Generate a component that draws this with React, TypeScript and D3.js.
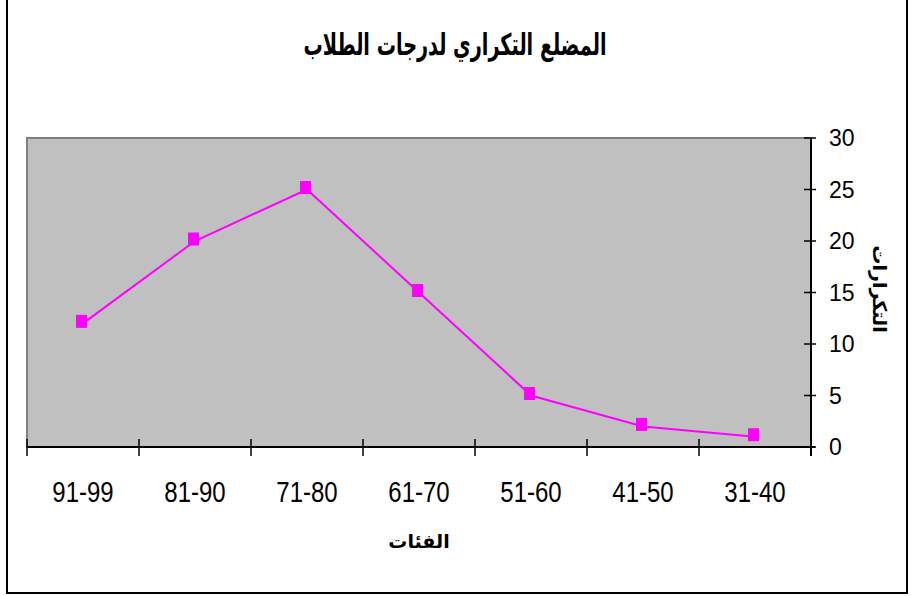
import React from "react";
import * as d3 from "d3";

// Class intervals (left to right) and their frequencies
const categories: string[] = ["91-99", "81-90", "71-80", "61-70", "51-60", "41-50", "31-40"];
const frequencies: number[] = [12, 20, 25, 15, 5, 2, 1];
const yTicks: number[] = [0, 5, 10, 15, 20, 25, 30];

const chartTitle = "المضلع التكراري لدرجات الطلاب";
const xTitle = "الفئات";
const yTitle = "التكرارات";

const W = 913;
const H = 596;
const plot = { left: 27, right: 811, top: 138, bottom: 447 };

export default function App() {
  const x = d3
    .scaleBand<string>()
    .domain(categories)
    .range([plot.left, plot.right])
    .padding(0);
  const y = d3.scaleLinear().domain([0, 30]).range([plot.bottom, plot.top]);

  const cx = (c: string) => (x(c) ?? 0) + x.bandwidth() / 2;
  const points: [number, number][] = categories.map((c, i) => [cx(c), y(frequencies[i])]);
  const line = d3.line<[number, number]>().x((d) => d[0]).y((d) => d[1]);

  const boundaries = [...categories.map((c) => x(c) ?? 0), plot.right];
  const arabicFont = "'DejaVu Sans', sans-serif";
  const latinFont = "'Liberation Sans', Arial, sans-serif";

  return (
    <svg
      width={W}
      height={H}
      style={{ position: "absolute", left: 0, top: 0, background: "#fff" }}
    >
      {/* outer chart frame */}
      <rect x={7} y={-2} width={900} height={595} fill="#fff" stroke="#000" strokeWidth={2} />

      {/* title */}
      <text
        x={455}
        y={55}
        textAnchor="middle"
        fontFamily={arabicFont}
        fontWeight="bold"
        fontSize={30}
        textLength={303}
        lengthAdjust="spacingAndGlyphs"
        direction="rtl"
        fill="#000"
      >
        {chartTitle}
      </text>

      {/* plot area */}
      <rect
        x={plot.left}
        y={plot.top}
        width={plot.right - plot.left}
        height={plot.bottom - plot.top}
        fill="#C0C0C0"
        stroke="#808080"
        strokeWidth={2}
      />

      {/* x axis */}
      <line x1={plot.left} x2={plot.right + 4} y1={plot.bottom} y2={plot.bottom} stroke="#000" strokeWidth={2} />
      {boundaries.map((bx, i) => (
        <line key={`xt${i}`} x1={bx} x2={bx} y1={plot.bottom - 8} y2={plot.bottom + 9} stroke="#000" strokeWidth={1.5} />
      ))}
      {categories.map((c) => (
        <g key={c} transform={`translate(${cx(c)},502) scale(0.8,1)`}>
          <text textAnchor="middle" fontFamily={latinFont} fontSize={30} fill="#000">
            {c}
          </text>
        </g>
      ))}
      <text
        x={(plot.left + plot.right) / 2}
        y={548}
        textAnchor="middle"
        fontFamily={arabicFont}
        fontWeight="bold"
        fontSize={19}
        direction="rtl"
        fill="#000"
      >
        {xTitle}
      </text>

      {/* y axis (right side) */}
      <line x1={plot.right} x2={plot.right} y1={plot.top} y2={plot.bottom + 9} stroke="#000" strokeWidth={2} />
      {yTicks.map((t) => (
        <g key={`yt${t}`}>
          <line x1={plot.right - 7} x2={plot.right + 5} y1={y(t)} y2={y(t)} stroke="#000" strokeWidth={1.5} />
          <text
            x={829}
            y={y(t)}
            dy="0.36em"
            fontFamily={latinFont}
            fontSize={23}
            fill="#000"
          >
            {t}
          </text>
        </g>
      ))}
      <text
        transform={`translate(873,289) rotate(90)`}
        textAnchor="middle"
        fontFamily={arabicFont}
        fontWeight="bold"
        fontSize={19}
        direction="rtl"
        fill="#000"
      >
        {yTitle}
      </text>

      {/* frequency polygon */}
      <path d={line(points) ?? ""} fill="none" stroke="#FF00FF" strokeWidth={2} />
      {points.map(([px, py], i) => (
        <rect
          key={`m${i}`}
          x={px - 7}
          y={py - 8.5}
          width={11}
          height={13}
          fill="#FF00FF"
        />
      ))}
    </svg>
  );
}
